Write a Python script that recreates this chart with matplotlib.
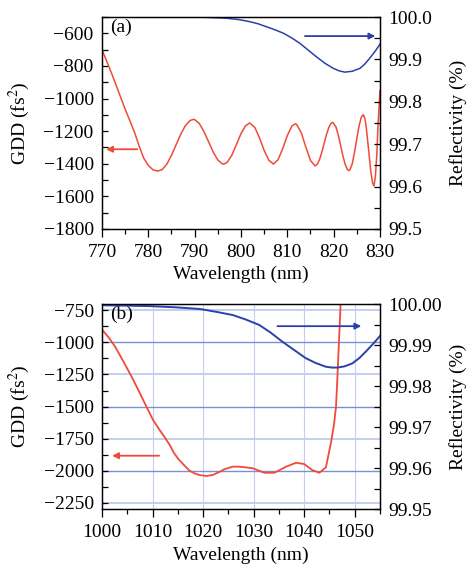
import matplotlib
matplotlib.use("Agg")
import matplotlib.pyplot as plt
from matplotlib.ticker import MultipleLocator, FormatStrFormatter

plt.rcParams["font.family"] = ["Liberation Serif", "DejaVu Serif"]
plt.rcParams["mathtext.fontset"] = "stix"

RED = "#f04a38"
BLUE = "#2d40a8"

# ---- (a) 770-830 nm mirror ----
wl_a_gdd = [770, 771, 772, 773, 774, 775, 776, 777, 778, 779, 780, 781, 782, 783,
            784, 785, 786, 787, 788, 789, 789.7, 790, 791, 792, 793, 794, 795, 796,
            796.3, 797, 798, 799, 800, 801, 801.9, 803, 804, 805, 806, 807, 808,
            809, 810, 811, 811.7, 812, 813, 814, 815, 816, 816.5, 817, 817.5, 818,
            818.5, 819, 819.5, 819.8, 820.5, 821, 821.5, 822, 822.5, 823, 823.3,
            823.5, 824, 824.5, 825, 825.5, 826, 826.4, 826.75, 827, 827.5, 828,
            828.4, 828.7, 829, 829.3, 829.6, 830]
gdd_a = [-700, -770, -840, -915, -990, -1065, -1135, -1205, -1290, -1365, -1410,
         -1437, -1445, -1436, -1402, -1348, -1283, -1219, -1166, -1135, -1128,
         -1129, -1153, -1202, -1265, -1328, -1377, -1401, -1402, -1392, -1349,
         -1283, -1215, -1166, -1150, -1178, -1242, -1318, -1378, -1402, -1375,
         -1307, -1227, -1168, -1155, -1158, -1209, -1298, -1380, -1413, -1402,
         -1370, -1323, -1269, -1216, -1174, -1150, -1146, -1174, -1224, -1287,
         -1352, -1405, -1437, -1442, -1438, -1401, -1330, -1245, -1165, -1113,
         -1099, -1124, -1168, -1302, -1444, -1518, -1536, -1480, -1350, -1150, -950]

wl_a_ref = [789.7, 793, 796.9, 799.5, 801.9, 803.7, 805.5, 807.3, 809.1, 810.9,
            812.7, 814.5, 816.3, 818.1, 819.9, 821.2, 822.4, 824, 825.7, 826.8,
            827.8, 829, 830]
ref_a = [100.000, 99.999, 99.997, 99.994, 99.989, 99.984, 99.977, 99.970, 99.962,
         99.951, 99.938, 99.922, 99.906, 99.891, 99.879, 99.873, 99.870, 99.872,
         99.879, 99.890, 99.903, 99.920, 99.936]

# ---- (b) 1000-1055 nm mirror ----
wl_b_gdd = [1000, 1001.3, 1002.6, 1004.4, 1006.2, 1007.5, 1008.8, 1010.1, 1011.4,
            1012.4, 1013.4, 1014.2, 1015.0, 1015.7, 1016.3, 1017.3, 1018.3, 1019.3,
            1020.6, 1021.9, 1023.3, 1024.2, 1025.9, 1027.2, 1028.5, 1029.8, 1031.0,
            1032.1, 1034.1, 1035.2, 1036.4, 1038.4, 1040.0, 1041.6, 1043.0, 1044.3,
            1044.9, 1045.4, 1045.9, 1046.3, 1046.6, 1047.2, 1047.6]
gdd_b = [-900, -960, -1033, -1160, -1293, -1397, -1502, -1605, -1683, -1740,
         -1800, -1860, -1905, -1935, -1960, -2000, -2022, -2035, -2042, -2035,
         -2009, -1990, -1969, -1970, -1975, -1982, -2000, -2017, -2017, -1995,
         -1970, -1939, -1949, -1996, -2017, -1975, -1860, -1760, -1640, -1500,
         -1250, -708, -450]

wl_b_ref = [1000, 1005, 1009.5, 1014.5, 1019.3, 1022.6, 1025.9, 1028.5, 1031.1,
            1033.4, 1035.7, 1038.0, 1040.3, 1042.3, 1044.3, 1045.5, 1046.6, 1048.0,
            1049.5, 1050.9, 1052.2, 1053.5, 1055]
ref_b = [99.9997, 99.9996, 99.9995, 99.9992, 99.9988, 99.9981, 99.9973, 99.9962,
         99.9949, 99.9930, 99.9908, 99.9888, 99.9868, 99.9856, 99.9847, 99.9845,
         99.9845, 99.9848, 99.9855, 99.9868, 99.9884, 99.9901, 99.9922]

fig = plt.figure(figsize=(4.70, 5.65), dpi=100)
ax_a = fig.add_axes([0.217, 0.5947, 0.5915, 0.3752])
ax_b = fig.add_axes([0.217, 0.0991, 0.5915, 0.3628])

FS = 14


def style_axes(ax, ax2, xlabel_y):
    for a in (ax, ax2):
        for s in a.spines.values():
            s.set_linewidth(0.9)
    ax.tick_params(axis="x", which="major", direction="out", length=6, width=0.9,
                   labelsize=FS, pad=5)
    ax.tick_params(axis="x", which="minor", direction="out", length=3.5, width=0.9)
    ax.tick_params(axis="y", which="major", direction="in", length=4, width=0.9,
                   labelsize=FS, pad=6)
    ax.tick_params(axis="y", which="minor", direction="in", length=4, width=0.9)
    ax.tick_params(axis="x", top=False, which="both")
    ax.tick_params(axis="y", right=False, which="both")
    ax2.tick_params(axis="y", which="major", direction="in", length=4, width=0.9,
                    labelsize=FS, pad=6)
    ax2.tick_params(axis="y", which="minor", direction="in", length=4, width=0.9)
    ax.set_xlabel("Wavelength (nm)", fontsize=FS)
    ax.set_ylabel("GDD (fs$^2$)", fontsize=FS)
    ax2.set_ylabel("Reflectivity (%)", fontsize=FS)
    ax.xaxis.set_label_coords(0.5, xlabel_y)
    ax.yaxis.set_label_coords(-0.252, 0.5)
    ax2.yaxis.set_label_coords(1.248, 0.5)


# (a)
ax_a.plot(wl_a_gdd, gdd_a, color=RED, lw=1.1)
ax_a.set_xlim(770, 830)
ax_a.set_ylim(-1800, -500)
ax_a.xaxis.set_major_locator(MultipleLocator(10))
ax_a.xaxis.set_minor_locator(MultipleLocator(5))
ax_a.yaxis.set_minor_locator(MultipleLocator(100))
ax_a.set_yticks([-1800, -1600, -1400, -1200, -1000, -800, -600])
ax_a2 = ax_a.twinx()
ax_a2.plot(wl_a_ref, ref_a, color=BLUE, lw=1.1)
ax_a2.set_ylim(99.5, 100.0)
ax_a2.yaxis.set_major_locator(MultipleLocator(0.1))
ax_a2.yaxis.set_minor_locator(MultipleLocator(0.05))
ax_a2.yaxis.set_major_formatter(FormatStrFormatter("%.1f"))
style_axes(ax_a, ax_a2, -0.175)
ax_a.text(0.03, 0.99, "(a)", transform=ax_a.transAxes, fontsize=FS,
          va="top", ha="left")
ax_a.annotate("", xy=(770.9, -1311), xytext=(777.6, -1311),
              arrowprops=dict(arrowstyle="-|>", color=RED, lw=1.3,
                              mutation_scale=9, shrinkA=0, shrinkB=0))
ax_a2.annotate("", xy=(829.0, 99.955), xytext=(813.8, 99.955),
               arrowprops=dict(arrowstyle="-|>", color=BLUE, lw=1.3,
                               mutation_scale=9, shrinkA=0, shrinkB=0))

# (b)
GRID_DARK = "#7891d6"
GRID_LIGHT = "#c4cff0"
ax_b.set_xlim(1000, 1055)
ax_b.set_ylim(-2300, -700)
ax_b.xaxis.set_major_locator(MultipleLocator(10))
ax_b.xaxis.set_minor_locator(MultipleLocator(5))
ax_b.yaxis.set_major_locator(MultipleLocator(250))
ax_b.yaxis.set_minor_locator(MultipleLocator(125))
for v in (1010, 1020, 1030, 1040, 1050):
    ax_b.axvline(v, color=GRID_LIGHT, lw=0.8, zorder=0)
for v in (-750, -1000, -1250, -1500, -1750, -2000, -2250):
    ax_b.axhline(v, color=GRID_DARK if v % 500 == 0 else GRID_LIGHT,
                 lw=1.0 if v % 500 == 0 else 1.4, zorder=0)
ax_b.plot(wl_b_gdd, gdd_b, color=RED, lw=1.3)
ax_b2 = ax_b.twinx()
ax_b2.plot(wl_b_ref, ref_b, color=BLUE, lw=1.4)
ax_b2.set_ylim(99.95, 100.00)
ax_b2.yaxis.set_major_locator(MultipleLocator(0.01))
ax_b2.yaxis.set_minor_locator(MultipleLocator(0.005))
ax_b2.yaxis.set_major_formatter(FormatStrFormatter("%.2f"))
style_axes(ax_b, ax_b2, -0.185)
ax_b.text(0.03, 0.99, "(b)", transform=ax_b.transAxes, fontsize=FS,
          va="top", ha="left")
ax_b.annotate("", xy=(1002.0, -1884), xytext=(1011.3, -1884),
              arrowprops=dict(arrowstyle="-|>", color=RED, lw=1.3,
                              mutation_scale=9, shrinkA=0, shrinkB=0))
ax_b2.annotate("", xy=(1051.3, 99.9946), xytext=(1034.7, 99.9946),
               arrowprops=dict(arrowstyle="-|>", color=BLUE, lw=1.3,
                               mutation_scale=9, shrinkA=0, shrinkB=0))

fig.savefig("out.png", dpi=100)
